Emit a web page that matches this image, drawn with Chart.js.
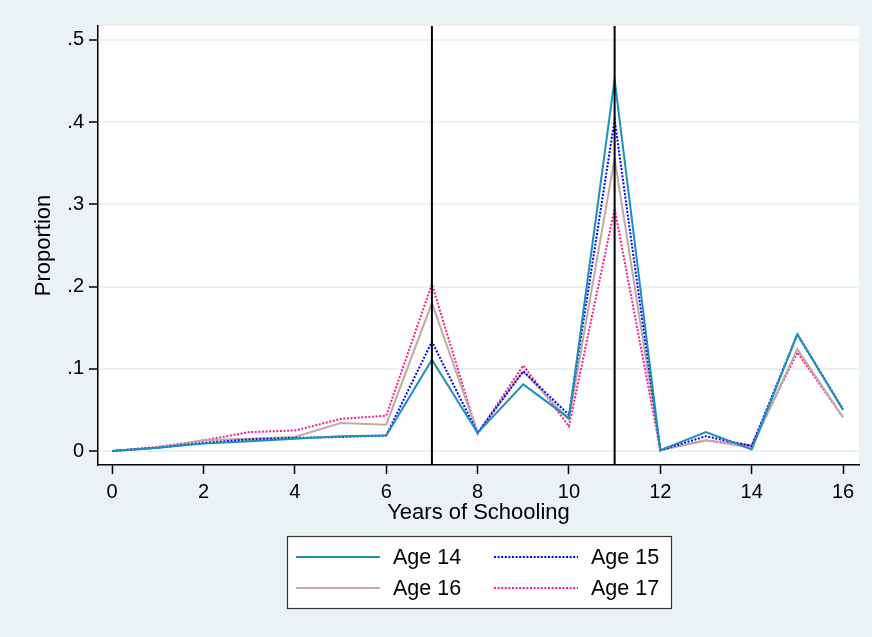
<!DOCTYPE html>
<html>
<head>
<meta charset="utf-8">
<script src="https://cdn.jsdelivr.net/npm/chart.js@4"></script>
<style>
  html, body { margin: 0; padding: 0; background: #EAF2F3; }
  #wrap { width: 872px; height: 637px; }
</style>
</head>
<body>
<div id="wrap"><canvas id="chart" width="872" height="637"></canvas></div>
<script>
// years of schooling on the x axis
const years = [0, 1, 2, 3, 4, 5, 6, 7, 8, 9, 10, 11, 12, 13, 14, 15, 16];
const age14 = [0, 0.004, 0.009, 0.012, 0.015, 0.018, 0.019, 0.111, 0.022, 0.081, 0.040, 0.452, 0.001, 0.023, 0.002, 0.142, 0.050];
const age15 = [0, 0.004, 0.010, 0.014, 0.016, 0.017, 0.019, 0.133, 0.022, 0.097, 0.044, 0.403, 0.001, 0.018, 0.006, 0.142, 0.051];
const age16 = [0, 0.004, 0.013, 0.015, 0.017, 0.034, 0.032, 0.180, 0.022, 0.097, 0.038, 0.356, 0.001, 0.013, 0.004, 0.124, 0.041];
const age17 = [0, 0.005, 0.013, 0.023, 0.025, 0.039, 0.043, 0.203, 0.021, 0.104, 0.030, 0.295, 0.001, 0.013, 0.007, 0.120, 0.041];
const seriesLabels = ['Age 14', 'Age 15', 'Age 16', 'Age 17'];
const xTicks = [0, 2, 4, 6, 8, 10, 12, 14, 16];
const yTicks = [0, 0.1, 0.2, 0.3, 0.4, 0.5];
const yTickLabels = ['0', '.1', '.2', '.3', '.4', '.5'];
const refLines = [7, 11];

const FONT = 'Liberation Sans, Arial, sans-serif';
const toPoints = arr => arr.map((v, i) => ({ x: years[i], y: v }));

// fond de graphique + zone blanche
const bgPlugin = {
    id: 'bg',
    beforeDraw(chart) {
        const { ctx, chartArea: a } = chart;
        ctx.save();
        ctx.fillStyle = '#EAF2F3';
        ctx.fillRect(0, 0, chart.width, chart.height);
        ctx.fillStyle = '#ffffff';
        ctx.fillRect(a.left, a.top, a.right - a.left, a.bottom - a.top);
        ctx.restore();
    }
};

// vertical reference lines
const refPlugin = {
    id: 'refLines',
    afterDatasetsDraw(chart) {
        const { ctx, chartArea: a, scales } = chart;
        ctx.save();
        ctx.strokeStyle = '#000';
        ctx.lineWidth = 2;
        refLines.forEach(v => {
            const px = scales.x.getPixelForValue(v);
            ctx.beginPath();
            ctx.moveTo(px, a.top);
            ctx.lineTo(px, a.bottom);
            ctx.stroke();
        });
        ctx.restore();
    }
};

// legend box below, 2 columns
const legendPlugin = {
    id: 'boxLegend',
    afterDraw(chart) {
        const { ctx, chartArea: a } = chart;
        const w = 384, h = 72;
        const left = Math.round((a.left + a.right) / 2 - w / 2);
        const top = 536;
        ctx.save();
        ctx.fillStyle = '#fff';
        ctx.fillRect(left, top, w, h);
        ctx.strokeStyle = '#333';
        ctx.lineWidth = 1.2;
        ctx.strokeRect(left + 0.5, top + 0.5, w, h);
        ctx.font = '21.5px ' + FONT;
        ctx.textBaseline = 'middle';
        ctx.fillStyle = '#000';
        chart.data.datasets.forEach((ds, i) => {
            const col = i % 2, row = Math.floor(i / 2);
            const x0 = left + 9 + col * 198;
            const y0 = top + 21 + row * 31;
            ctx.strokeStyle = ds.borderColor;
            ctx.lineWidth = ds.borderWidth;
            ctx.setLineDash(ds.borderDash || []);
            ctx.beginPath();
            ctx.moveTo(x0, y0);
            ctx.lineTo(x0 + 84, y0);
            ctx.stroke();
            ctx.setLineDash([]);
            ctx.fillText(ds.label, x0 + 97, y0 + 1);
        });
        ctx.restore();
    }
};

const dotted = [2, 1.6];
const ctx = document.getElementById('chart').getContext('2d');
new Chart(ctx, {
    type: 'line',
    data: {
        datasets: [
            { label: seriesLabels[0], data: toPoints(age14), borderColor: '#1C91B6', borderWidth: 2 },
            { label: seriesLabels[1], data: toPoints(age15), borderColor: '#0000FF', borderWidth: 2, borderDash: dotted },
            { label: seriesLabels[2], data: toPoints(age16), borderColor: '#C2AAA3', borderWidth: 2 },
            { label: seriesLabels[3], data: toPoints(age17), borderColor: '#FF1A8C', borderWidth: 2, borderDash: dotted }
        ]
    },
    options: {
        responsive: false,
        animation: false,
        elements: { point: { radius: 0 }, line: { tension: 0, borderCapStyle: 'butt' } },
        layout: { padding: { left: 0, top: 26, right: 13, bottom: 111 } },
        plugins: { legend: { display: false }, tooltip: { enabled: false } },
        scales: {
            x: {
                type: 'linear',
                min: -0.31,
                max: 16.35,
                afterBuildTicks: s => { s.ticks = xTicks.map(v => ({ value: v })); },
                afterFit: s => { s.height = 61; },
                ticks: { color: '#000', font: { family: FONT, size: 20 }, padding: 6, maxRotation: 0, autoSkip: false, callback: v => String(v) },
                grid: { drawOnChartArea: false, drawTicks: true, tickLength: 9, tickColor: '#000', tickWidth: 1.5 },
                border: { color: '#000', width: 1.5 },
                title: { display: true, text: 'Years of Schooling', color: '#000', font: { family: FONT, size: 22 }, padding: { top: 0, bottom: 0 } }
            },
            y: {
                min: -0.017,
                max: 0.517,
                afterBuildTicks: s => { s.ticks = yTicks.map(v => ({ value: v })); },
                afterFit: s => { s.width = 98; },
                ticks: { color: '#000', font: { family: FONT, size: 20 }, padding: 5, callback: v => yTickLabels[yTicks.findIndex(t => Math.abs(t - v) < 1e-9)] },
                grid: { color: '#EAF2F3', lineWidth: 2, drawTicks: true, tickLength: 9, tickColor: '#000', tickWidth: 1.5 },
                border: { color: '#000', width: 1.5 },
                title: { display: true, text: 'Proportion', color: '#000', font: { family: FONT, size: 22 }, padding: { top: 31, bottom: 0 } }
            }
        }
    },
    plugins: [bgPlugin, refPlugin, legendPlugin]
});
</script>
</body>
</html>
